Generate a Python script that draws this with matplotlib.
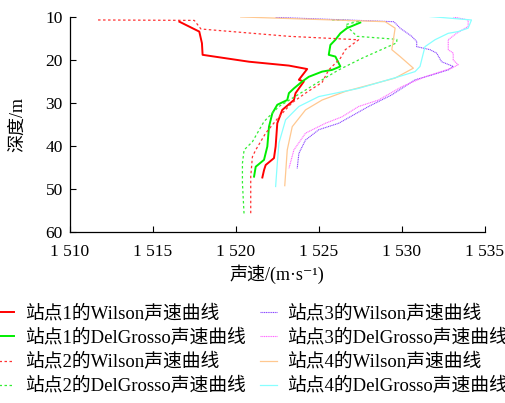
import matplotlib
matplotlib.use("Agg")
import matplotlib.pyplot as plt

plt.rcParams.update({
    "font.family":      ["Liberation Serif", "Noto Sans CJK SC", "DejaVu Sans"],
    "axes.spines.top":   False,
    "axes.spines.right": False,
})

# ── data (depth in m, sound speed in m/s) ──────────────────
s1_wil_d = [11.2, 13.5, 16.2, 18.9, 20.5, 21.4, 22.2, 24.7, 25.1, 27.8, 29.4,
            31.7, 34.8, 40.2, 42.9, 44.5, 45.7, 47.4]
s1_wil_v = [1516.6, 1517.8, 1517.96, 1518.0, 1520.8, 1523.2, 1524.3, 1523.8,
            1524.1, 1523.6, 1523.5, 1522.8, 1522.5, 1522.4, 1522.3, 1521.8,
            1521.7, 1521.6]

s1_dg_d = [11.4, 12.7, 13.9, 15.4, 16.6, 18.9, 19.3, 21.6, 22.4, 22.8, 24.0,
           25.1, 26.7, 27.8, 29.4, 30.5, 32.5, 35.6, 40.2, 43.3, 44.9, 47.2]
s1_dg_v = [1527.5, 1526.7, 1526.3, 1526.0, 1525.7, 1525.6, 1526.0, 1526.3,
           1525.8, 1525.2, 1524.4, 1524.0, 1523.5, 1523.2, 1523.1, 1522.5,
           1522.2, 1522.0, 1521.9, 1521.7, 1521.2, 1521.1]

s2_wil_d = [10.8, 10.9, 12.9, 14.6, 15.4, 17.7, 19.7, 22.4, 25.3, 27.8, 30.0,
            33.3, 37.1, 41.0, 42.6, 47.2, 55.7]
s2_wil_v = [1511.7, 1517.5, 1517.9, 1523.2, 1527.4, 1526.6, 1526.3, 1525.6,
            1525.2, 1524.2, 1523.4, 1522.6, 1521.8, 1521.2, 1521.0, 1520.9,
            1520.9]

s2_dg_d = [10.8, 11.0, 11.9, 14.6, 15.3, 16.1, 19.7, 22.4, 24.7, 27.8, 30.9,
           34.4, 39.1, 41.0, 44.1, 48.7, 56.1]
s2_dg_v = [1525.8, 1527.5, 1526.6, 1527.3, 1529.7, 1529.7, 1527.6, 1526.2,
           1525.2, 1523.9, 1522.6, 1521.7, 1521.0, 1520.5, 1520.4, 1520.4,
           1520.5]

s3_wil_d = [10.2, 11.2, 11.5, 12.7, 14.6, 15.8, 17.0, 17.7, 18.5, 20.5, 21.6,
            22.4, 23.6, 24.7, 28.2, 30.9, 34.8, 36.3, 38.7, 41.8, 45.3]
s3_wil_v = [1522.4, 1529.5, 1529.6, 1529.9, 1530.6, 1530.9, 1530.9, 1531.7,
            1532.1, 1532.4, 1533.1, 1532.8, 1531.8, 1530.8, 1529.4, 1528.0,
            1526.2, 1525.0, 1524.2, 1523.8, 1523.7]

s3_dg_d = [10.1, 10.8, 12.3, 13.9, 15.4, 17.7, 18.5, 20.1, 21.2, 22.0, 24.0,
           26.3, 29.4, 30.9, 33.3, 34.8, 37.1, 41.0, 45.3]
s3_dg_v = [1533.1, 1534.0, 1534.0, 1533.3, 1532.8, 1532.8, 1533.1, 1533.1,
           1533.4, 1533.0, 1531.4, 1530.0, 1528.6, 1527.4, 1526.4, 1525.4,
           1524.2, 1523.5, 1523.2]

s4_wil_d = [10.1, 11.2, 12.7, 17.7, 19.3, 22.0, 24.3, 27.4, 29.4, 31.7, 35.6,
            41.0, 49.3]
s4_wil_v = [1520.3, 1529.0, 1529.6, 1529.4, 1529.9, 1530.7, 1529.6, 1526.6,
            1525.2, 1524.2, 1523.4, 1523.1, 1522.95]

s4_dg_d = [10.0, 10.8, 12.7, 13.5, 13.9, 15.4, 17.0, 18.5, 21.6, 22.8, 24.0,
           26.7, 28.6, 30.9, 34.0, 39.4, 44.1, 49.5]
s4_dg_v = [1531.7, 1534.2, 1534.0, 1533.4, 1532.8, 1532.0, 1531.4, 1531.3,
           1531.1, 1530.8, 1529.8, 1527.4, 1525.0, 1523.8, 1523.0, 1522.6,
           1522.5, 1522.4]

labels = ["站点1的Wilson声速曲线", "站点1的DelGrosso声速曲线",
          "站点2的Wilson声速曲线", "站点2的DelGrosso声速曲线",
          "站点3的Wilson声速曲线", "站点3的DelGrosso声速曲线",
          "站点4的Wilson声速曲线", "站点4的DelGrosso声速曲线"]

x_ticks = [1510, 1515, 1520, 1525, 1530, 1535]
y_ticks = [10, 20, 30, 40, 50, 60]

series = [
    (s1_wil_v, s1_wil_d, "#ff0000", "-",          1.4),
    (s1_dg_v,  s1_dg_d,  "#00ee00", "-",          1.4),
    (s2_wil_v, s2_wil_d, "#ff3333", (0, (2, 2)),  0.9),
    (s2_dg_v,  s2_dg_d,  "#33ee33", (0, (2, 2)),  0.9),
    (s3_wil_v, s3_wil_d, "#8844ff", (0, (1, 0.6)), 0.8),
    (s3_dg_v,  s3_dg_d,  "#ff66ff", (0, (1, 0.6)), 0.8),
    (s4_wil_v, s4_wil_d, "#ffc890", "-",          0.9),
    (s4_dg_v,  s4_dg_d,  "#88ffff", "-",          0.9),
]

fig = plt.figure(figsize=(5.06, 4.03), dpi=100)
ax = fig.add_axes([0.138, 0.425, 0.82, 0.534])

for (v, d, c, ls, lw), lab in zip(series, labels):
    ax.plot(v, d, color=c, linestyle=ls, linewidth=lw, label=lab)

ax.set_xlim(1510, 1535)
ax.set_ylim(60, 10)
ax.set_xticks(x_ticks)
ax.set_xticklabels([f"{t // 1000} {t % 1000:03d}" for t in x_ticks])
ax.set_yticks(y_ticks)
ax.tick_params(direction="in", length=4, width=0.8, labelsize=12.5)
ax.tick_params(axis="x", pad=9)
ax.tick_params(axis="y", pad=5)
ax.spines["left"].set_linewidth(0.9)
ax.spines["bottom"].set_linewidth(0.9)

ax.set_xlabel("声速/(m·s⁻¹)", fontsize=13, labelpad=3)
ax.set_ylabel("深度/m", fontsize=13, labelpad=14)

fig.legend(loc="upper left", bbox_to_anchor=(-0.005, 0.244), ncol=2,
           frameon=False, fontsize=13.5, handlelength=0.9, handletextpad=0.55,
           columnspacing=0.8, labelspacing=0.33, borderpad=0, borderaxespad=0)

fig.savefig("out.png", dpi=100, facecolor="white")
